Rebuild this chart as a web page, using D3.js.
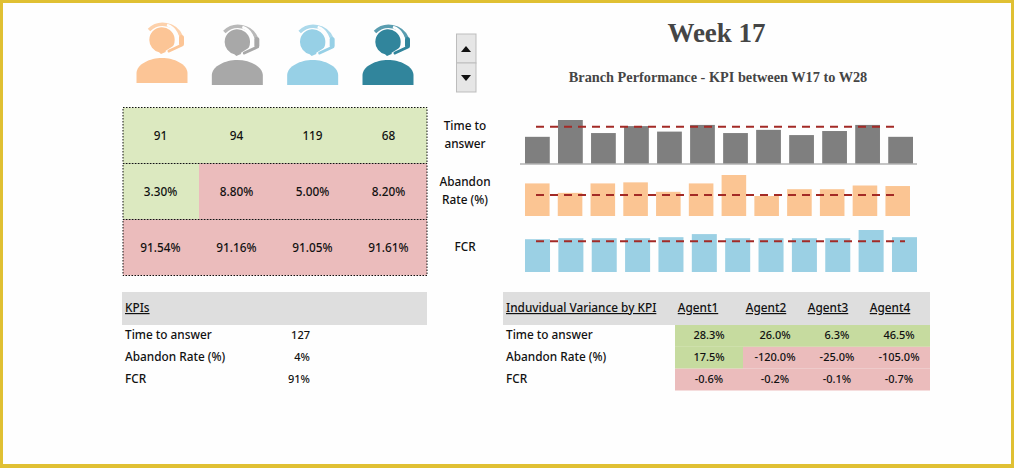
<!DOCTYPE html>
<html>
<head>
<meta charset="utf-8">
<script src="https://cdn.jsdelivr.net/npm/d3@7"></script>
<style>
  html, body { margin: 0; padding: 0; background: #fff; }
  svg { display: block; }
  .cell { font-family: "Noto Sans", sans-serif; font-size: 11.8px; font-weight: 500; fill: #111; }
  .title { font-family: "Liberation Serif", serif; font-weight: bold; fill: #454545; }
</style>
</head>
<body>
<svg id="chart" width="1014" height="468"></svg>
<script>
// Agent scorecard values
const agents = ["Agent1", "Agent2", "Agent3", "Agent4"];
const kpiNames = ["Time to answer", "Abandon Rate (%)", "FCR"];
const weeks = ["W17", "W18", "W19", "W20", "W21", "W22", "W23", "W24", "W25", "W26", "W27", "W28"];

const scoreLabels = [["Time to", "answer"], ["Abandon", "Rate (%)"], ["FCR"]];
const scoreText = [
  ["91", "94", "119", "68"],
  ["3.30%", "8.80%", "5.00%", "8.20%"],
  ["91.54%", "91.16%", "91.05%", "91.61%"],
];
const scoreOk = [
  [true, true, true, true],
  [true, false, false, false],
  [false, false, false, false],
];

const targetText = ["127", "4%", "91%"];
const targets = [127, 4, 91];

const varianceText = [
  ["28.3%", "26.0%", "6.3%", "46.5%"],
  ["17.5%", "-120.0%", "-25.0%", "-105.0%"],
  ["-0.6%", "-0.2%", "-0.1%", "-0.7%"],
];
const varianceOk = [
  [true, true, true, true],
  [true, false, false, false],
  [false, false, false, false],
];

const timeValues = [92, 150, 105, 129, 110, 133, 105, 116, 98, 112, 133, 92];
const abandonValues = [6.2, 4.4, 6.2, 6.4, 4.6, 6.2, 7.8, 3.8, 5.1, 5.1, 5.8, 5.7];
const fcrValues = [91.4, 91.6, 91.6, 91.6, 91.8, 92.4, 91.6, 91.6, 91.6, 91.6, 93.2, 91.8];

const svg = d3.select("#chart");

// page frame
svg.append("rect").attr("width", 1014).attr("height", 468).attr("fill", "#e0c033");
svg.append("rect").attr("x", 3).attr("y", 3).attr("width", 1008).attr("height", 461).attr("fill", "#fefefe");

// titles
svg.append("text").attr("class", "title").attr("x", 716.5).attr("y", 42)
  .attr("text-anchor", "middle").attr("font-size", 27).text("Week 17");
svg.append("text").attr("class", "title").attr("x", 718).attr("y", 82)
  .attr("text-anchor", "middle").attr("font-size", 14.3).text("Branch Performance - KPI between W17 to W28");

// headset icons, one per agent
const iconColors = ["#fcc596", "#a8a8a8", "#97d0e6", "#31859c"];
const iconX = d3.scalePoint().domain(agents).range([162, 388]);
const icons = svg.selectAll(".icon").data(agents).enter().append("g")
  .attr("class", "icon")
  .attr("transform", (d, i) => `translate(${iconX(d)},${i === 0 ? 58 : 60})`);
icons.append("path") // body
  .attr("d", "M-25.5,25 L-25.5,15 C-25,6 -12,0 0,0 C12,0 25,6 25.5,15 L25.5,25 Z")
  .attr("fill", (d, i) => iconColors[i]);
icons.append("path") // head
  .attr("d", "M-12.7,-18 A12.7,12.7 0 1 1 3,-5.7 L-1,-4 L-3,-5.7 A12.7,12.7 0 0 1 -12.7,-18 Z")
  .attr("fill", (d, i) => iconColors[i]);
icons.append("path") // band
  .attr("d", "M-13,-28 A20,20 0 0 1 19,-22")
  .attr("fill", "none").attr("stroke-width", 3.5)
  .attr("stroke", (d, i) => iconColors[i]).attr("stroke-opacity", 0.8);
icons.append("path") // gap between head and mic
  .attr("d", "M5,-33 A15.5,15.5 0 0 1 15,-13 L4,-6")
  .attr("fill", "none").attr("stroke", "#fefefe").attr("stroke-width", 2.5);
icons.append("rect") // ear piece
  .attr("x", 17).attr("y", -23).attr("width", 5).attr("height", 11).attr("rx", 2.5)
  .attr("fill", (d, i) => iconColors[i]);
icons.append("path") // mic boom
  .attr("d", "M20,-13 L7,-7")
  .attr("fill", "none").attr("stroke-width", 3).attr("stroke-linecap", "round")
  .attr("stroke", (d, i) => iconColors[i]);

// spin button
const spin = svg.append("g");
spin.selectAll("rect").data([[34, 29], [63, 29]]).enter().append("rect")
  .attr("x", 456.5).attr("y", d => d[0]).attr("width", 19.5).attr("height", d => d[1])
  .attr("fill", "#e6e6e6").attr("stroke", "#bdbdbd");
spin.append("path").attr("d", "M461,52 L471,52 L466,46 Z").attr("fill", "#111");
spin.append("path").attr("d", "M461,75 L471,75 L466,81 Z").attr("fill", "#111");

// scorecard grid
const gridX = d3.scaleBand().domain(agents).range([123, 427]);
const gridY = d3.scaleBand().domain(kpiNames).range([107.5, 275.5]);
const green = "#dce9c0", red = "#ebbcbc";

kpiNames.forEach((kpi, r) => {
  svg.selectAll(null).data(agents).enter().append("rect")
    .attr("x", d => gridX(d)).attr("y", gridY(kpi))
    .attr("width", gridX.bandwidth()).attr("height", gridY.bandwidth())
    .attr("fill", (d, c) => scoreOk[r][c] ? green : red);
  svg.selectAll(null).data(agents).enter().append("text")
    .attr("class", "cell")
    .attr("x", d => gridX(d) + gridX.bandwidth() / 2 - 0.5)
    .attr("y", gridY(kpi) + gridY.bandwidth() / 2 + 4)
    .attr("text-anchor", "middle")
    .text((d, c) => scoreText[r][c]);
  svg.append("rect")
    .attr("x", 123).attr("y", gridY(kpi)).attr("width", 304).attr("height", gridY.bandwidth())
    .attr("fill", "none").attr("stroke", "#111").attr("stroke-dasharray", "1.5,1.5");
  // row label, one or two lines
  const lines = scoreLabels[r];
  svg.selectAll(null).data(lines).enter().append("text")
    .attr("class", "cell").attr("x", 465).attr("text-anchor", "middle")
    .attr("y", (d, i) => gridY(kpi) + gridY.bandwidth() / 2 + 3 + (i - (lines.length - 1) / 2) * 18)
    .text(d => d);
});

// weekly bars with target line
function barPanel(values, target, opt) {
  const x = d3.scaleBand().domain(weeks).range(opt.xRange).paddingInner(0.25).paddingOuter(0);
  const y = d3.scaleLinear().domain(opt.domain).range([opt.bottom, opt.top]);
  const g = svg.append("g");
  g.selectAll("rect").data(values).enter().append("rect")
    .attr("x", (d, i) => x(weeks[i])).attr("y", d => y(d))
    .attr("width", x.bandwidth()).attr("height", d => y(opt.domain[0]) - y(d))
    .attr("fill", opt.color);
  if (opt.axis) {
    g.append("g").attr("transform", `translate(0,${opt.bottom})`)
      .call(d3.axisBottom(x).tickSize(0).tickFormat(""))
      .call(a => a.select(".domain").attr("stroke", "#8c8c8c")
        .attr("d", `M${opt.xRange[0] - 5},0.5H${opt.xRange[1] + 4}`));
  }
  const lineX = d3.scalePoint().domain(weeks).range(opt.lineRange);
  const line = d3.line().x(d => lineX(d)).y(() => y(target));
  g.append("path").attr("d", line(weeks))
    .attr("fill", "none").attr("stroke", "#a32a26").attr("stroke-width", 2)
    .attr("stroke-dasharray", "8,6");
}

barPanel(timeValues, targets[0], { xRange: [525, 913], lineRange: [536, 895], domain: [0, 150], top: 120, bottom: 163.5, color: "#7f7f7f", axis: true });
barPanel(abandonValues, targets[1], { xRange: [525, 910], lineRange: [536, 895], domain: [0, 7.8], top: 175, bottom: 216, color: "#fbc593" });
barPanel(fcrValues, targets[2], { xRange: [525, 917], lineRange: [536, 905], domain: [85, 93.2], top: 230, bottom: 272, color: "#9bd0e4" });

// lower tables
const rowY = d3.scalePoint().domain(kpiNames).range([339, 383]);

svg.append("rect").attr("x", 122).attr("y", 292).attr("width", 305).attr("height", 33).attr("fill", "#dedede");
svg.append("rect").attr("x", 503).attr("y", 292).attr("width", 427).attr("height", 33).attr("fill", "#dedede");

svg.append("text").attr("class", "cell").attr("x", 125).attr("y", 312)
  .attr("text-decoration", "underline").text("KPIs");
svg.selectAll(null).data(kpiNames).enter().append("text")
  .attr("class", "cell").attr("x", 125).attr("y", d => rowY(d)).text(d => d);
svg.selectAll(null).data(targetText).enter().append("text")
  .attr("class", "cell").attr("x", 310).attr("y", (d, i) => rowY(kpiNames[i]))
  .attr("text-anchor", "end").style("font-size", "11px").text(d => d);

svg.append("text").attr("class", "cell").attr("x", 506).attr("y", 312)
  .attr("text-decoration", "underline").text("Induvidual Variance by KPI");
svg.selectAll(null).data(kpiNames).enter().append("text")
  .attr("class", "cell").attr("x", 506).attr("y", d => rowY(d)).text(d => d);

const varX = d3.scaleOrdinal().domain(agents).range([675, 743, 808, 868]);
const varW = d3.scaleOrdinal().domain(agents).range([68, 65, 60, 62]);
const varLabelX = d3.scaleOrdinal().domain(agents).range([698, 766, 828, 890]);
const varTextX = d3.scaleOrdinal().domain(agents).range([709, 775, 837, 899]);
const varY = d3.scaleBand().domain(kpiNames).range([325, 390.5]);

svg.selectAll(null).data(agents).enter().append("text")
  .attr("class", "cell").attr("x", d => varLabelX(d)).attr("y", 312)
  .attr("text-anchor", "middle").attr("text-decoration", "underline").text(d => d);

kpiNames.forEach((kpi, r) => {
  svg.selectAll(null).data(agents).enter().append("rect")
    .attr("x", d => varX(d)).attr("y", varY(kpi))
    .attr("width", d => varW(d)).attr("height", varY.bandwidth())
    .attr("fill", (d, c) => varianceOk[r][c] ? "#c6db9f" : "#ebbcbc");
  svg.selectAll(null).data(agents).enter().append("text")
    .attr("class", "cell").attr("x", d => varTextX(d)).attr("y", rowY(kpi))
    .attr("text-anchor", "middle").style("font-size", "11px")
    .text((d, c) => varianceText[r][c]);
});
</script>
</body>
</html>
